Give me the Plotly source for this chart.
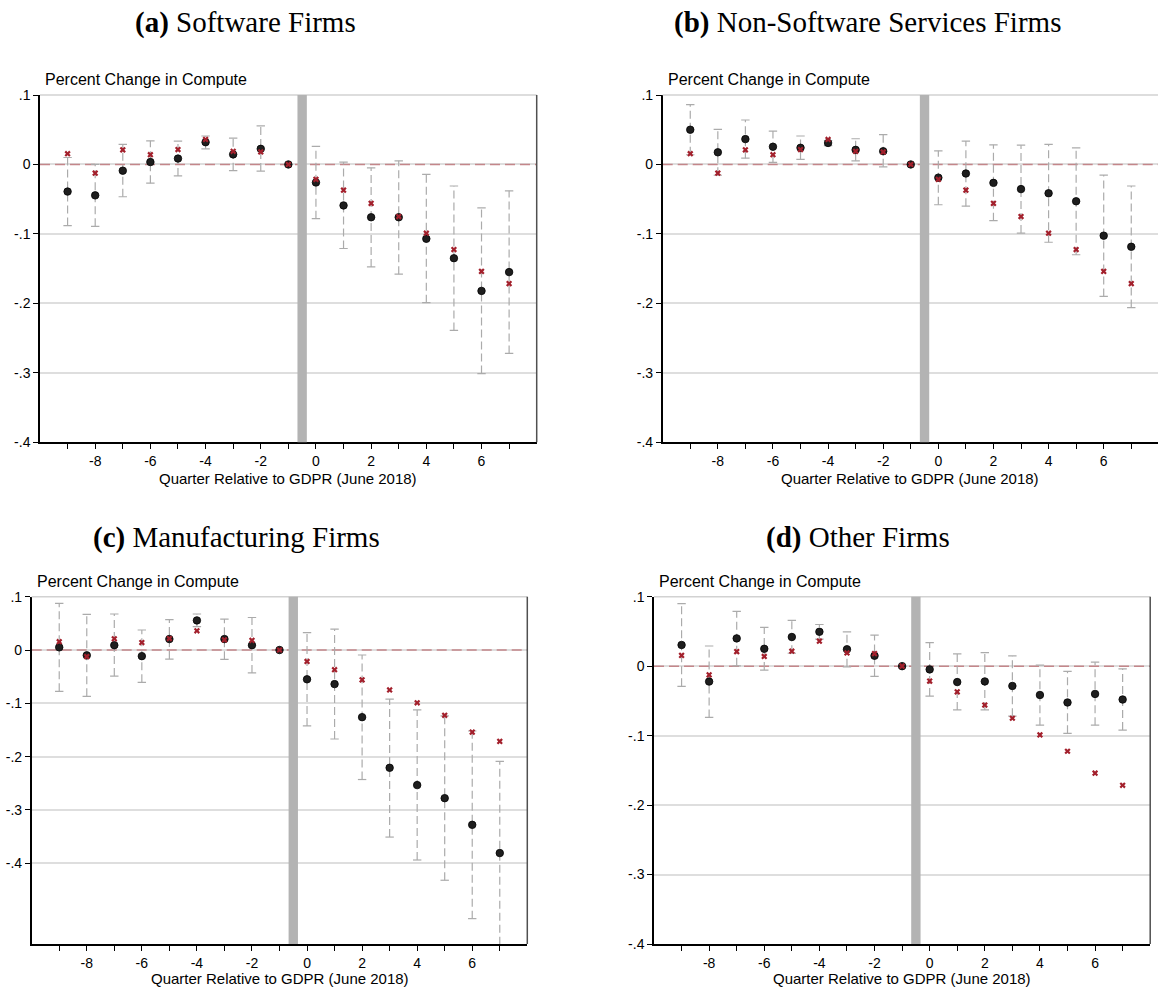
import plotly.graph_objects as go

W, H = 1158, 988

quarters = list(range(-9, 8))

# Red x: pooled (all firms) estimate, shown in every panel
all_est = [0.0155, -0.0125, 0.021, 0.014, 0.0215, 0.036, 0.019, 0.018, 0.0,
           -0.0215, -0.037, -0.056, -0.075, -0.099, -0.1225, -0.154, -0.1715]

# (a) Software firms
sw_est = [-0.039, -0.0445, -0.009, 0.0035, 0.0085, 0.032, 0.0145, 0.0225, 0.0,
          -0.026, -0.059, -0.076, -0.076, -0.107, -0.135, -0.182, -0.155]
sw_lo = [-0.088, -0.089, -0.0465, -0.027, -0.0165, 0.0225, -0.009, -0.0095, 0.0,
         -0.078, -0.121, -0.1475, -0.158, -0.199, -0.239, -0.301, -0.272]
sw_hi = [0.010, 0.000, 0.029, 0.034, 0.0335, 0.041, 0.038, 0.0555, 0.0,
         0.026, 0.0035, -0.0048, 0.0053, -0.0144, -0.031, -0.0625, -0.038]

# (b) Non-software services firms
ns_est = [0.050, 0.0175, 0.0365, 0.0255, 0.024, 0.031, 0.021, 0.019, 0.0,
          -0.019, -0.013, -0.0265, -0.0355, -0.0415, -0.053, -0.1025, -0.1185]
ns_lo = [0.014, -0.0155, 0.009, 0.003, 0.0072, 0.027, 0.0053, -0.0034, 0.0,
         -0.058, -0.060, -0.081, -0.0988, -0.112, -0.130, -0.190, -0.206]
ns_hi = [0.086, 0.0505, 0.064, 0.048, 0.041, 0.0345, 0.037, 0.043, 0.0,
         0.0197, 0.0336, 0.0283, 0.0278, 0.0288, 0.024, -0.0153, -0.031]

# (c) Manufacturing firms
mf_est = [0.005, -0.010, 0.009, -0.0115, 0.0205, 0.0555, 0.0205, 0.009, 0.0,
          -0.055, -0.064, -0.126, -0.221, -0.2535, -0.278, -0.328, -0.381]
mf_lo = [-0.0775, -0.087, -0.049, -0.0606, -0.017, 0.044, -0.0175, -0.043, 0.0,
         -0.1425, -0.167, -0.243, -0.351, -0.394, -0.432, -0.504, -0.553]
mf_hi = [0.0875, 0.067, 0.0675, 0.0375, 0.057, 0.0675, 0.058, 0.061, 0.0,
         0.0325, 0.039, -0.0094, -0.092, -0.1125, -0.1235, -0.152, -0.209]

# (d) Other firms
ot_est = [0.0305, -0.0222, 0.040, 0.025, 0.042, 0.0495, 0.0243, 0.015, 0.0,
          -0.0047, -0.0229, -0.022, -0.0285, -0.0415, -0.0523, -0.040, -0.048]
ot_lo = [-0.029, -0.0738, 0.0005, -0.0057, 0.0186, 0.039, -0.001, -0.0148, 0.0,
         -0.043, -0.063, -0.063, -0.072, -0.085, -0.0967, -0.085, -0.092]
ot_hi = [0.090, 0.029, 0.079, 0.0557, 0.066, 0.060, 0.0495, 0.0448, 0.0,
         0.0338, 0.0176, 0.0195, 0.0148, 0.0014, -0.0076, 0.0057, -0.0038]

panel_titles = ["<b>(a)</b> Software Firms", "<b>(b)</b> Non-Software Services Firms",
                "<b>(c)</b> Manufacturing Firms", "<b>(d)</b> Other Firms"]
y_title = "Percent Change in Compute"
x_title = "Quarter Relative to GDPR (June 2018)"
ytick_vals = [0.1, 0.0, -0.1, -0.2, -0.3, -0.4]
ytick_text = [".1", "0", "-.1", "-.2", "-.3", "-.4"]
gdpr_line = -0.5

panels = [
    dict(est=sw_est, lo=sw_lo, hi=sw_hi, px=(40, 536.7), py=(95, 442.3),
         yr=(-0.4, 0.1), xr=(-10, 8), right=True, title_x=245, title_y=23, xt=36),
    dict(est=ns_est, lo=ns_lo, hi=ns_hi, px=(662.7, 1158), py=(95, 442.3),
         yr=(-0.4, 0.1), xr=(-10, 7.97), right=False, title_x=867, title_y=23, xt=36),
    dict(est=mf_est, lo=mf_lo, hi=mf_hi, px=(31.7, 527.3), py=(596.7, 944),
         yr=(-0.5516, 0.1), xr=(-10, 8), right=True, title_x=236, title_y=537, xt=34),
    dict(est=ot_est, lo=ot_lo, hi=ot_hi, px=(654, 1150.2), py=(596.7, 944),
         yr=(-0.4, 0.1), xr=(-10, 8), right=True, title_x=858, title_y=537, xt=34),
]

FONT = "Liberation Sans, Arial, Helvetica, sans-serif"
SERIF = "Liberation Serif, Times New Roman, serif"
CI_COL = "#ababab"
DOT_COL = "#1e1e1e"
RED_COL = "#a3202c"
ZERO_COL = "#c4868a"

fig = go.Figure()
shapes, annotations = [], []
layout = {}

for i, p in enumerate(panels, start=1):
    xs = "" if i == 1 else str(i)
    xref, yref = "x" + xs, "y" + xs

    # zero reference line (dashed), spanning the axis range
    fig.add_trace(go.Scatter(x=list(p["xr"]), y=[0, 0], mode="lines", xaxis=xref, yaxis=yref,
                             line=dict(color=ZERO_COL, width=1.5, dash="10px,5px"),
                             showlegend=False, hoverinfo="skip"))

    # CI segments (dashed) built from lo/hi arrays
    seg_x, seg_y, cap_x, cap_y = [], [], [], []
    for q, lo, hi in zip(quarters, p["lo"], p["hi"]):
        if hi - lo <= 0:
            continue
        seg_x += [q, q, None]
        seg_y += [lo, hi, None]
        cap_x += [q, q]
        cap_y += [lo, hi]
    fig.add_trace(go.Scatter(x=seg_x, y=seg_y, mode="lines", xaxis=xref, yaxis=yref,
                             line=dict(color=CI_COL, width=1.2, dash="8px,4px"),
                             showlegend=False, hoverinfo="skip"))
    fig.add_trace(go.Scatter(x=cap_x, y=cap_y, mode="markers", xaxis=xref, yaxis=yref,
                             marker=dict(symbol="line-ew", size=6,
                                         line=dict(color=CI_COL, width=1.2)),
                             showlegend=False, hoverinfo="skip"))
    fig.add_trace(go.Scatter(x=quarters, y=p["est"], mode="markers", xaxis=xref, yaxis=yref,
                             marker=dict(symbol="circle", size=7.5, color=DOT_COL,
                                         line=dict(color="#000000", width=0.8)),
                             showlegend=False))
    fig.add_trace(go.Scatter(x=quarters, y=all_est, mode="markers", xaxis=xref, yaxis=yref,
                             marker=dict(symbol="x", size=5.5, color=RED_COL,
                                         line=dict(width=0)),
                             showlegend=False))

    x0, x1 = p["px"]
    yt, yb = p["py"]
    layout["xaxis" + xs] = dict(
        domain=[x0 / W, x1 / W], range=list(p["xr"]), anchor=yref,
        tickmode="array", tickvals=quarters,
        ticktext=[str(q) if q % 2 == 0 else "" for q in quarters],
        showline=True, linecolor="#000000", linewidth=1.5,
        ticks="outside", ticklen=5, tickwidth=1.2, tickcolor="#000000",
        showgrid=False, zeroline=False, automargin=False,
        tickfont=dict(family=FONT, size=14, color="#000"), fixedrange=True)
    layout["yaxis" + xs] = dict(
        domain=[1 - yb / H, 1 - yt / H], range=list(p["yr"]), anchor=xref,
        tickmode="array", tickvals=ytick_vals, ticktext=ytick_text,
        showline=True, linecolor="#000000", linewidth=1.5,
        ticks="outside", ticklen=5, tickwidth=1.2, tickcolor="#000000",
        showgrid=True, gridcolor="#dedede", gridwidth=1.5, zeroline=False,
        automargin=False,
        tickfont=dict(family=FONT, size=14, color="#000"), fixedrange=True)

    # top gridline at .1 (plot frame top)
    shapes.append(dict(type="line", xref="paper", yref="paper",
                       x0=x0 / W, x1=x1 / W, y0=1 - yt / H, y1=1 - yt / H,
                       line=dict(color="#d2d2d2", width=1.5), layer="above"))
    # GDPR vertical band
    shapes.append(dict(type="rect", xref=xref, yref="paper",
                       x0=gdpr_line - 0.17, x1=gdpr_line + 0.17,
                       y0=1 - yb / H, y1=1 - yt / H,
                       fillcolor="#b3b3b3", line=dict(width=0), layer="above"))
    if p["right"]:
        shapes.append(dict(type="line", xref="paper", yref="paper",
                           x0=x1 / W, x1=x1 / W, y0=1 - yb / H, y1=1 - yt / H,
                           line=dict(color="#505050", width=1.5), layer="above"))

    annotations.append(dict(text=panel_titles[i - 1], xref="paper", yref="paper",
                            x=p["title_x"] / W, y=1 - p["title_y"] / H,
                            xanchor="center", yanchor="middle", showarrow=False,
                            font=dict(family=SERIF, size=29, color="#000")))
    annotations.append(dict(text=y_title, xref="paper", yref="paper",
                            x=(x0 + 3) / W, y=1 - (yt - 15) / H,
                            xanchor="left", yanchor="middle", showarrow=False,
                            font=dict(family=FONT, size=16, color="#000")))
    annotations.append(dict(text=x_title, xref="paper", yref="paper",
                            x=((x0 + x1) / 2) / W, y=1 - (yb + p["xt"]) / H,
                            xanchor="center", yanchor="middle", showarrow=False,
                            font=dict(family=FONT, size=15, color="#000")))

fig.update_layout(
    width=W, height=H, autosize=False,
    margin=dict(l=0, r=0, t=0, b=0, pad=0, autoexpand=False),
    paper_bgcolor="white", plot_bgcolor="white",
    shapes=shapes, annotations=annotations, showlegend=False,
    **layout)

fig.write_html("out.html", config={"responsive": False, "displayModeBar": False})
